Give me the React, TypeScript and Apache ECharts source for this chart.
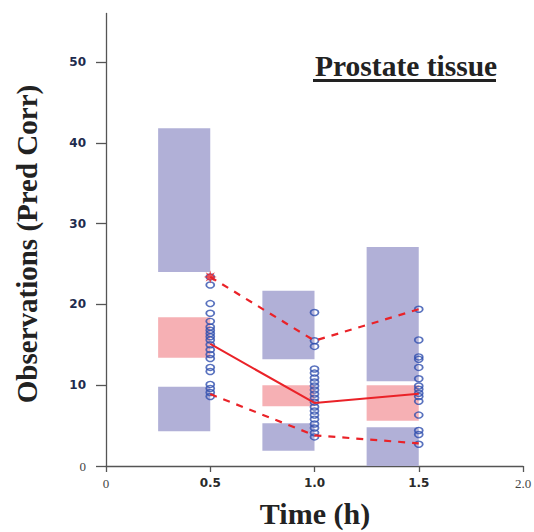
import React, { useEffect, useRef } from "react";
import * as echarts from "echarts";

// ---- data ----
const times = [0.5, 1.0, 1.5];
const binStart = [0.25, 0.75, 1.25];
const binEnd = [0.5, 1.0, 1.5];
// prediction intervals [low, high] for each bin
const upperPI = [
  [24.0, 41.8],
  [13.2, 21.7],
  [10.5, 27.1],
];
const medianPI = [
  [13.4, 18.4],
  [7.4, 10.0],
  [5.6, 10.0],
];
const lowerPI = [
  [4.3, 9.8],
  [1.9, 5.3],
  [0.0, 4.8],
];
// observed percentiles
const obsMedian = [15.1, 7.8, 8.95];
const obsUpper = [23.4, 15.5, 19.4];
const obsLower = [8.9, 3.8, 2.8];
// observations (pred corr)
const obs05 = [23.4, 22.4, 20.1, 18.9, 17.9, 17.2, 16.8, 16.4, 16.0, 15.6, 15.0, 14.4, 13.8, 13.3, 12.2, 11.7, 10.1, 9.6, 9.1, 8.6];
const obs10 = [19.0, 15.5, 14.8, 12.0, 11.5, 10.9, 10.4, 9.9, 9.4, 8.9, 8.4, 7.9, 7.3, 6.8, 6.3, 5.8, 5.2, 4.7, 4.1, 3.6];
const obs15 = [19.4, 15.6, 13.5, 13.2, 12.2, 10.8, 9.9, 9.5, 9.0, 8.6, 8.0, 6.3, 4.4, 3.9, 2.7];
// point outside the interval (marked)
const flagged = [[0.5, 23.4]];
const yTicks = [0, 10, 20, 30, 40, 50];

const BLUE_BOX = "#b1b0d7";
const PINK_BOX = "#f6b0b4";
const RED = "#ea2228";
const CIRCLE = "#2f4fae";

function starSymbol(): string {
  let d = "";
  for (let i = 0; i < 16; i++) {
    const a = (i * Math.PI) / 8 - Math.PI / 2;
    const r = i % 2 === 0 ? 10 : 4.5;
    const x = 10 + r * Math.cos(a);
    const y = 10 + r * Math.sin(a);
    d += (i === 0 ? "M" : "L") + x.toFixed(2) + " " + y.toFixed(2) + " ";
  }
  return "path://" + d + "Z";
}

export default function App() {
  const ref = useRef<HTMLDivElement>(null);
  useEffect(() => {
    if (!ref.current) return;
    const chart = echarts.init(ref.current, null, { renderer: "svg" });

    const boxes: any[] = [];
    for (let i = 0; i < binStart.length; i++) {
      boxes.push([binStart[i], binEnd[i], upperPI[i][0], upperPI[i][1], 0]);
      boxes.push([binStart[i], binEnd[i], medianPI[i][0], medianPI[i][1], 1]);
      boxes.push([binStart[i], binEnd[i], lowerPI[i][0], lowerPI[i][1], 0]);
    }
    const points = [
      ...obs05.map((v) => [times[0], v]),
      ...obs10.map((v) => [times[1], v]),
      ...obs15.map((v) => [times[2], v]),
    ];

    chart.setOption({
      animation: false,
      grid: { left: 106, right: 11, top: 13.5, bottom: 66, outerBoundsMode: "none" },
      xAxis: {
        type: "value",
        min: 0,
        max: 2,
        interval: 0.5,
        splitLine: { show: false },
        axisLine: { show: true, onZero: false, lineStyle: { color: "#555", width: 1.3 } },
        axisTick: { show: true, length: 6, lineStyle: { color: "#555", width: 1.3 } },
        axisLabel: {
          margin: 11,
          color: "#444",
          formatter: (v: number) =>
            v === 0 ? "{s|0}" : v === 2 ? "{s|2.0}" : "{b|" + v.toFixed(1) + "}",
          rich: {
            s: { fontFamily: "Liberation Serif", fontSize: 13, color: "#444" },
            b: { fontFamily: "DejaVu Sans", fontWeight: "bold", fontSize: 12, color: "#2a2a2a" },
          },
        },
      },
      yAxis: {
        type: "value",
        min: 0,
        max: 56,
        splitLine: { show: false },
        axisLine: { show: true, onZero: false, lineStyle: { color: "#555", width: 1.3 } },
        axisTick: { show: true, length: 10, customValues: yTicks, lineStyle: { color: "#555", width: 1.3 } },
        axisLabel: {
          margin: 20,
          color: "#444",
          customValues: yTicks,
          formatter: (v: number) => (v === 0 ? "{s|0}" : "{b|" + v + "}"),
          rich: {
            s: { fontFamily: "Liberation Serif", fontSize: 13, color: "#444" },
            b: { fontFamily: "DejaVu Sans", fontWeight: "bold", fontSize: 12, color: "#1e2b4e" },
          },
        },
      },
      series: [
        {
          type: "custom",
          z: 1,
          clip: true,
          data: boxes,
          encode: { x: [0, 1], y: [2, 3] },
          renderItem: (params: any, api: any) => {
            const p0 = api.coord([api.value(0), api.value(3)]);
            const p1 = api.coord([api.value(1), api.value(2)]);
            return {
              type: "rect",
              shape: { x: p0[0], y: p0[1], width: p1[0] - p0[0], height: p1[1] - p0[1] },
              style: { fill: api.value(4) === 1 ? PINK_BOX : BLUE_BOX },
            };
          },
        },
        {
          type: "scatter",
          z: 2,
          data: points,
          symbol: "circle",
          symbolSize: [8, 6],
          itemStyle: { color: "rgba(255,255,255,0)", borderColor: CIRCLE, borderWidth: 1.6 },
        },
        {
          type: "line",
          z: 3,
          data: times.map((t, i) => [t, obsMedian[i]]),
          symbol: "none",
          lineStyle: { color: RED, width: 2 },
        },
        {
          type: "line",
          z: 3,
          data: times.map((t, i) => [t, obsUpper[i]]),
          symbol: "none",
          lineStyle: { color: RED, width: 2.2, type: [7, 7] },
        },
        {
          type: "line",
          z: 3,
          data: times.map((t, i) => [t, obsLower[i]]),
          symbol: "none",
          lineStyle: { color: RED, width: 2.2, type: [7, 7] },
        },
        {
          type: "scatter",
          z: 4,
          data: flagged,
          symbol: starSymbol(),
          symbolSize: 13,
          itemStyle: { color: RED },
        },
      ],
      graphic: [
        {
          type: "text",
          x: 315,
          y: 66,
          style: {
            text: "Prostate tissue",
            fontFamily: "Liberation Serif",
            fontWeight: "bold",
            fontSize: 29.5,
            fill: "#222",
            align: "left",
            verticalAlign: "middle",
          },
        },
        { type: "rect", shape: { x: 313, y: 79, width: 183, height: 3 }, style: { fill: "#222" } },
        {
          type: "text",
          x: 27,
          y: 244,
          rotation: Math.PI / 2,
          style: {
            text: "Observations (Pred Corr)",
            fontFamily: "Liberation Serif",
            fontWeight: "bold",
            fontSize: 29,
            fill: "#222",
            align: "center",
            verticalAlign: "middle",
          },
        },
        {
          type: "text",
          x: 315,
          y: 513,
          style: {
            text: "Time (h)",
            fontFamily: "Liberation Serif",
            fontWeight: "bold",
            fontSize: 30,
            fill: "#222",
            align: "center",
            verticalAlign: "middle",
          },
        },
      ],
    });
    return () => chart.dispose();
  }, []);
  return <div ref={ref} style={{ width: 534, height: 532, position: "absolute", left: 0, top: 0 }} />;
}
